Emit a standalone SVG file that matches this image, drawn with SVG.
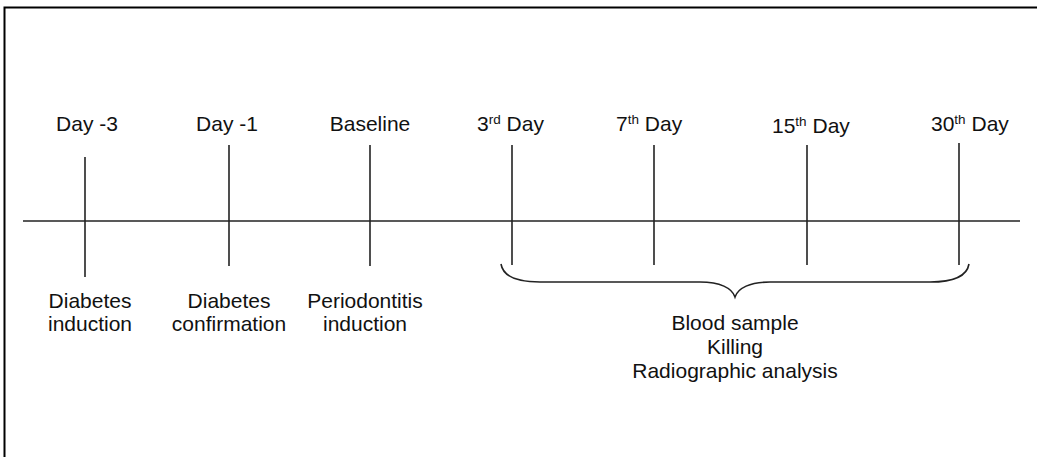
<svg xmlns="http://www.w3.org/2000/svg" width="1037" height="457" viewBox="0 0 1037 457">
<style>
.ln{stroke:#222;stroke-width:1.6;fill:none}
.t{font-family:"Liberation Sans",Arial,sans-serif;font-size:21px;fill:#111}
.c{text-anchor:middle}
.sup{font-size:13.5px}
</style>
<rect width="1037" height="457" fill="#fff"/>
<path d="M4.5 457 V7.5 H1037" stroke="#000" stroke-width="2" fill="none"/>
<g id="connectors">
<line class="ln" x1="23" y1="221" x2="1020" y2="221"/>
<path class="ln" d="M501 264 C503 276 515 282 540 282 H700 C720 282 732 288 735 297 C738 288 750 282 770 282 H930 C955 282 967 276 969 264"/>
</g>
<g id="day-3">
<line class="ln" x1="85" y1="157" x2="85" y2="277"/>
<text class="t c" x="87" y="131">Day -3</text>
<text class="t c" x="90" y="308">Diabetes</text>
<text class="t c" x="90" y="331">induction</text>
</g>
<g id="day-1">
<line class="ln" x1="229" y1="145" x2="229" y2="266"/>
<text class="t c" x="227" y="131">Day -1</text>
<text class="t c" x="229" y="308">Diabetes</text>
<text class="t c" x="229" y="331">confirmation</text>
</g>
<g id="baseline">
<line class="ln" x1="370" y1="145" x2="370" y2="266"/>
<text class="t c" x="370" y="131">Baseline</text>
<text class="t c" x="365" y="308">Periodontitis</text>
<text class="t c" x="365" y="331">induction</text>
</g>
<g id="day3">
<line class="ln" x1="512" y1="145" x2="512" y2="265"/>
<text class="t" x="477" y="131">3<tspan class="sup" dy="-7">rd</tspan><tspan dy="7"> Day</tspan></text>
</g>
<g id="day7">
<line class="ln" x1="654" y1="145" x2="654" y2="265"/>
<text class="t" x="616" y="131">7<tspan class="sup" dy="-7">th</tspan><tspan dy="7"> Day</tspan></text>
</g>
<g id="day15">
<line class="ln" x1="807" y1="145" x2="807" y2="265"/>
<text class="t" x="772" y="133">15<tspan class="sup" dy="-7">th</tspan><tspan dy="7"> Day</tspan></text>
</g>
<g id="day30">
<line class="ln" x1="959" y1="143" x2="959" y2="265"/>
<text class="t" x="931" y="131">30<tspan class="sup" dy="-7">th</tspan><tspan dy="7"> Day</tspan></text>
</g>
<g id="outcomes">
<text class="t c" x="735" y="330">Blood sample</text>
<text class="t c" x="735" y="354">Killing</text>
<text class="t c" x="735" y="378">Radiographic analysis</text>
</g>
</svg>
